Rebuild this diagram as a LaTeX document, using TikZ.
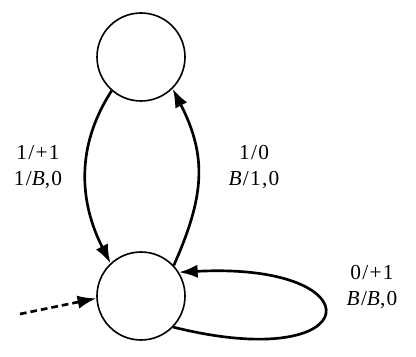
\documentclass[tikz,border=0pt]{standalone}
\usepackage{fontspec}
\setmainfont{Liberation Serif}[LetterSpace=6]
\usetikzlibrary{arrows.meta,positioning}
\tikzset{
  st/.style={draw, circle, minimum size=66pt, inner sep=0pt, line width=1.2pt},
  lbl/.style={align=center, font=\fontsize{16}{20}\selectfont, inner sep=0pt},
  ar/.style={-{Latex[length=14pt,width=10pt]}, line width=2pt},
  initar/.style={ar, dashed, dash pattern=on 5pt off 3pt},
}
\begin{document}
\begin{tikzpicture}[x=0.75pt, y=0.75pt]
  \useasboundingbox (0,0) rectangle (416,356);
  \node[st] (q1) at (141,299) {};
  \node[st] (q0) at (141,60) {};
  \coordinate (init) at (20,42);
  \node[lbl] (l1) at (38,189) {1/+1\\1/\textit{B},0};
  \node[lbl] (l2) at (254,189) {1/0\\\textit{B}/1,0};
  \node[lbl] (l3) at (372,69) {0/+1\\\textit{B}/\textit{B},0};
  \draw[ar] (q1.229) to[out=237, in=117] (q0.133);
  \draw[ar] (q0.43) to[out=66, in=297, looseness=1.1] (q1.315);
  \draw[ar] (q0.-44) .. controls +(-14:200) and +(3:200) .. (q0.32);
  \draw[initar] (init) -- (q0.183);
\end{tikzpicture}
\end{document}
